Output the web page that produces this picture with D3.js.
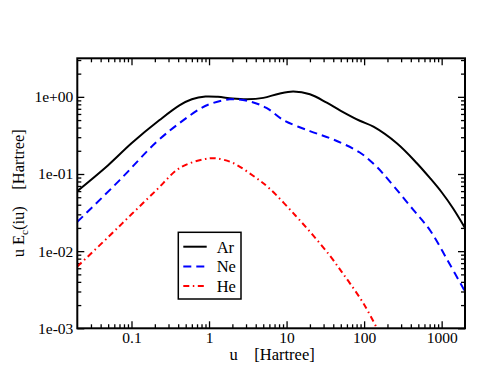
<!DOCTYPE html>
<html>
<head>
<meta charset="utf-8">
<script src="https://cdn.jsdelivr.net/npm/d3@7"></script>
<style>
  body { margin: 0; background: #fff; }
  text { font-family: "Liberation Serif", "Times New Roman", serif; fill: #000; }
</style>
</head>
<body>
<div id="chart"></div>
<script>
// correlation energy density u*Ec(iu), log-log
var arU = [0.02, 0.05, 0.1, 0.23, 0.42, 0.6, 0.9, 1.3, 2.0, 3.1, 5, 8, 12.2, 20, 33, 50, 88, 132, 264, 479, 711, 1000, 1400, 2000];
var arE = [0.06, 0.13, 0.25, 0.5, 0.78, 0.93, 1.01, 1.0, 0.95, 0.93, 0.97, 1.1, 1.17, 1.08, 0.84, 0.66, 0.49, 0.41, 0.25, 0.138, 0.088, 0.058, 0.036, 0.02];

var neU = [0.02, 0.071, 0.21, 0.42, 0.78, 1.0, 1.86, 3.4, 5.5, 9.1, 20, 40, 88, 144, 206, 434, 711, 1200, 2000];
var neE = [0.024, 0.084, 0.26, 0.46, 0.71, 0.8, 0.93, 0.87, 0.72, 0.5, 0.36, 0.28, 0.19, 0.125, 0.084, 0.034, 0.0185, 0.0075, 0.003];

var heU = [0.02, 0.05, 0.1, 0.21, 0.42, 0.85, 1.2, 2.0, 3.7, 6, 13, 22, 36, 50, 66, 98, 146, 170];
var heE = [0.0063, 0.0152, 0.03, 0.062, 0.12, 0.155, 0.16, 0.14, 0.095, 0.065, 0.029, 0.016, 0.0088, 0.0056, 0.0038, 0.0021, 0.001, 0.0007];

var seriesNames = ["Ar", "Ne", "He"];
var xTicks = [0.1, 1, 10, 100, 1000];
var xTickLabels = ["0.1", "1", "10", "100", "1000"];
var yTicks = [0.001, 0.01, 0.1, 1];
var yTickLabels = ["1e-03", "1e-02", "1e-01", "1e+00"];

var W = 502, H = 388,
    pLeft = 77.3, pRight = 465, pTop = 58.3, pBottom = 328.3;

var svg = d3.select("#chart").append("svg")
    .attr("width", W)
    .attr("height", H);

var x = d3.scaleLog()
    .domain([0.02, 2000])
    .range([pLeft, pRight]);

var y = d3.scaleLog()
    .domain([0.001, 3.16])
    .range([pBottom, pTop]);

// minor ticks 2..9 of each decade inside the domain
function minors(scale) {
  var d = scale.domain(), out = [];
  for (var e = -3; e <= 3; e++) {
    for (var k = 2; k <= 9; k++) {
      var v = k * Math.pow(10, e);
      if (v > d[0] * 1.0001 && v < d[1] * 0.9999) out.push(v);
    }
  }
  return out;
}

function drawAxis(axis, tx, ty, cls) {
  var g = svg.append("g")
      .attr("class", cls)
      .attr("transform", "translate(" + tx + "," + ty + ")")
      .call(axis);
  g.select(".domain").remove();
  g.selectAll("line").attr("stroke", "#000").attr("stroke-width", 1.3);
  g.selectAll("text").style("font-size", "15.5px").attr("fill", "#000")
      .style("font-family", '"Liberation Serif", "Times New Roman", serif');
  return g;
}

var xMin = minors(x), yMin = minors(y);

// bottom & top
drawAxis(d3.axisBottom(x).tickValues(xTicks).tickSize(-7).tickPadding(4)
    .tickFormat(function(d, i) { return xTickLabels[i]; }), 0, pBottom, "xmaj");
drawAxis(d3.axisBottom(x).tickValues(xMin).tickSize(-4).tickFormat(""), 0, pBottom, "xmin");
drawAxis(d3.axisTop(x).tickValues(xTicks).tickSize(-7).tickFormat(""), 0, pTop, "xmajt");
drawAxis(d3.axisTop(x).tickValues(xMin).tickSize(-4).tickFormat(""), 0, pTop, "xmint");

// left & right
drawAxis(d3.axisLeft(y).tickValues(yTicks).tickSize(-7).tickPadding(4)
    .tickFormat(function(d, i) { return yTickLabels[i]; }), pLeft, 0, "ymaj");
drawAxis(d3.axisLeft(y).tickValues(yMin).tickSize(-4).tickFormat(""), pLeft, 0, "ymin");
drawAxis(d3.axisRight(y).tickValues(yTicks).tickSize(-7).tickFormat(""), pRight, 0, "ymajr");
drawAxis(d3.axisRight(y).tickValues(yMin).tickSize(-4).tickFormat(""), pRight, 0, "yminr");

svg.append("clipPath").attr("id", "clip")
  .append("rect")
    .attr("x", pLeft).attr("y", pTop)
    .attr("width", pRight - pLeft).attr("height", pBottom - pTop);

var line = d3.line()
    .x(function(d) { return x(d[0]); })
    .y(function(d) { return y(d[1]); })
    .curve(d3.curveCatmullRom.alpha(0.5));

var series = [
  {name: seriesNames[0], pts: d3.zip(arU, arE), color: "#000", dash: null},
  {name: seriesNames[1], pts: d3.zip(neU, neE), color: "#0000ff", dash: "8,5"},
  {name: seriesNames[2], pts: d3.zip(heU, heE), color: "#ff0000", dash: "6,3.5,1.5,3.5"}
];

svg.append("g").attr("clip-path", "url(#clip)")
  .selectAll("path")
  .data(series)
  .enter().append("path")
    .attr("d", function(d) { return line(d.pts); })
    .attr("fill", "none")
    .attr("stroke", function(d) { return d.color; })
    .attr("stroke-width", 2)
    .attr("stroke-dasharray", function(d) { return d.dash; });

// frame
svg.append("rect")
    .attr("x", pLeft).attr("y", pTop)
    .attr("width", pRight - pLeft).attr("height", pBottom - pTop)
    .attr("fill", "none")
    .attr("stroke", "#000")
    .attr("stroke-width", 2);

// axis titles
svg.append("text")
    .attr("x", (pLeft + pRight) / 2 + 1)
    .attr("y", 360)
    .attr("text-anchor", "middle")
    .style("font-size", "16.5px")
    .text("u\u00a0\u00a0\u00a0\u00a0[Hartree]");

var yl = svg.append("text")
    .attr("transform", "translate(24," + (pTop + pBottom) / 2 + ") rotate(-90)")
    .attr("text-anchor", "middle")
    .style("font-size", "16.5px");
yl.append("tspan").text("u E");
yl.append("tspan").attr("dy", 4).style("font-size", "11px").text("c");
yl.append("tspan").attr("dy", -4).text("(iu)\u00a0\u00a0\u00a0\u00a0[Hartree]");

// legend
var lg = svg.append("g").attr("transform", "translate(178.3,232.3)");
lg.append("rect")
    .attr("width", 62.7).attr("height", 66.7)
    .attr("fill", "#fff")
    .attr("stroke", "#000")
    .attr("stroke-width", 1.5);

var item = lg.selectAll("g.item")
    .data(series)
  .enter().append("g")
    .attr("class", "item")
    .attr("transform", function(d, i) { return "translate(0," + (14.4 + i * 19.7) + ")"; });

item.append("line")
    .attr("x1", 5).attr("x2", 28.4)
    .attr("stroke", function(d) { return d.color; })
    .attr("stroke-width", 2)
    .attr("stroke-dasharray", function(d) { return d.dash; });

item.append("text")
    .attr("x", 38.4)
    .attr("y", 6)
    .style("font-size", "16.5px")
    .text(function(d) { return d.name; });
</script>
</body>
</html>
